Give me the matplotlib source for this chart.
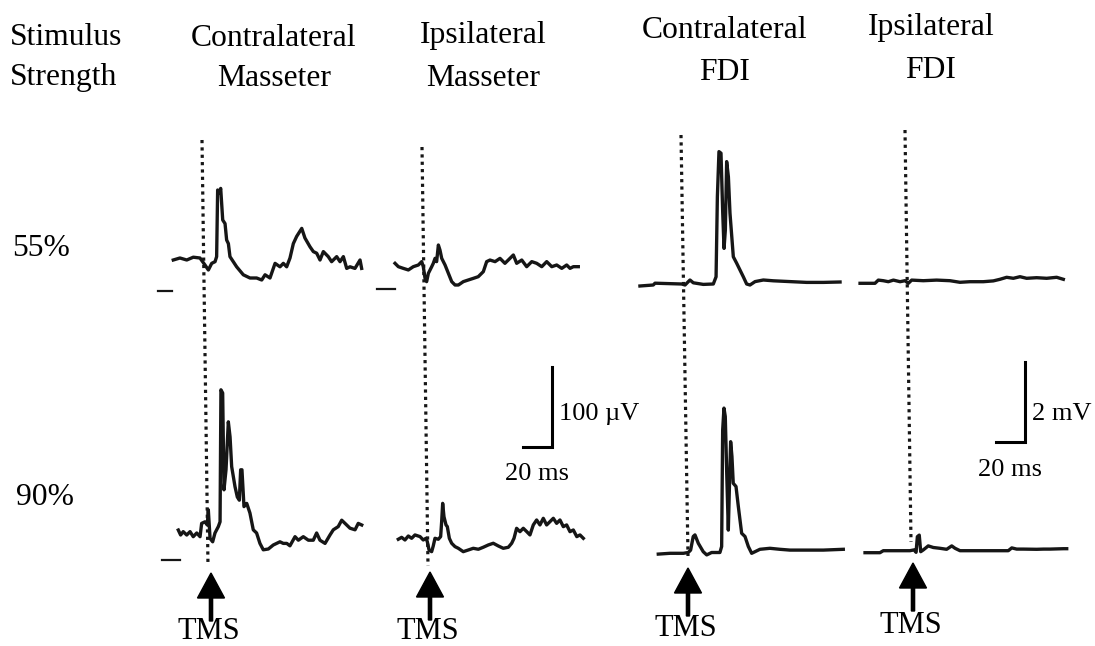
import numpy as np
import matplotlib
matplotlib.use("Agg")
import matplotlib.pyplot as plt

W, H = 1095, 646
PX_PER_MS = 1.45          # 20 ms = 29 px
PX_PER_UV = 0.8           # 100 uV = 80 px (masseter)
PX_PER_MV = 40.0          # 2 mV = 80 px (FDI)

# --- traces: time (ms, 0 = TMS) and amplitude (uV for masseter, mV for FDI) ---
cm55_t = [-20.5, -15.9, -11.2, -6.7, -2.1, 1.4, 3.7, 6.0, 8.3, 9.4, 10.1, 11.3, 12.2, 13.6, 15.2,
          16.3, 17.5, 18.6, 23.2, 27.8, 32.4, 37.0, 40.5, 42.8, 46.2, 49.7, 53.1, 55.4, 57.7, 60.0,
          62.3, 64.6, 68.1, 70.3, 73.8, 76.1, 78.4, 80.7, 83.0, 86.4, 88.7, 92.2, 94.5, 96.8, 99.1,
          101.4, 104.8, 108.3, 109.4]
cm55_a = [-2.5, 0, -2.5, 1, 0, -8.8, -15, -6.7, -4.6, 1.7, 85, 81, 87, 47.5, 43,
          22.5, 18, 1.7, -11, -21, -25, -25, -27.5, -21, -25, -6.7, -11, -6.7, -11, 0,
          18, 27, 37, 25, 14, 8, 6, -2.5, 8, 1.7, -4.6, 1.7, -4.6, 1.7, -13,
          -11, -13, -2.5, -13]

im55_t = [-18.4, -16.1, -12.7, -9.2, -5.8, -2.3, 0, 1.1, 2.3, 3.4, 4.6, 6.9, 8.0, 9.2, 10.3,
          11.5, 12.6, 13.8, 16.1, 18.4, 20.7, 23.0, 25.3, 28.7, 32.2, 35.6, 39.0, 42.5, 44.8, 47.1,
          50.6, 54.0, 57.4, 59.7, 63.2, 65.5, 69.0, 72.4, 75.9, 79.3, 82.8, 86.2, 89.7, 93.1, 96.6,
          100.0, 102.3, 104.6, 108.0]
im55_a = [2.1, -2.1, -4.2, -6.2, -2.1, 0, 4.2, -2.1, -16.7, -20.8, -10.4, -2.1, 2.1, 8.3, 4.2,
          25, 18.7, 8.3, 0, -10.4, -20.8, -25, -25, -20.8, -18.7, -16.7, -14.6, -8.3, 4.2, 6.2,
          4.2, 8.3, 2.1, 6.2, 12.5, 2.1, 6.2, -2.1, 4.2, 2.1, -2.1, 4.2, -2.1, 0, -4.2,
          0, -4.2, -2.1, -2.1]

cf55_t = [-28.8, -19.6, -18.4, 0, 2.3, 5.7, 8.0, 14.9, 21.8, 23.7, 24.6, 25.7, 27.1, 28.3, 29.2,
          30.1, 31.0, 32.2, 33.3, 35.6, 37.9, 40.2, 42.5, 44.8, 47.1, 50.6, 56.3, 63.2, 74.7, 86.2,
          97.7, 109.2]
cf55_a = [-0.05, -0.025, 0.02, 0, -0.025, 0.1, 0.03, -0.01, 0, 0.18, 2.18, 3.31, 3.27, 1.77, 0.89,
          1.35, 3.06, 2.68, 1.77, 0.68, 0.52, 0.35, 0.18, 0, -0.025, 0.06, 0.1, 0.08, 0.06, 0.04,
          0.04, 0.05]

if55_t = [-31.0, -20.7, -18.4, -15.0, -11.5, -8.0, -3.4, 0, 2.3, 4.6, 12.6, 21.8, 31.0, 37.9, 44.8,
          54.0, 60.9, 65.5, 70.1, 74.7, 79.3, 83.9, 90.8, 97.7, 104.6, 109.2]
if55_a = [-0.04, -0.04, 0.04, 0.025, 0, 0.04, 0, 0.025, -0.04, 0.04, 0.025, 0.04, 0.025, -0.015, 0,
          0, 0.02, 0.06, 0.11, 0.085, 0.125, 0.085, 0.1, 0.085, 0.11, 0.06]

cm90_t = [-20.0, -18.4, -16.6, -14.2, -11.9, -9.7, -7.3, -5.0, -3.9, -1.6, 0, 0.7, 1.9, 3.7, 5.3,
          7.6, 8.8, 9.4, 10.6, 11.5, 12.9, 14.5, 15.7, 16.8, 19.1, 20.7, 22.1, 23.0, 23.9, 25.3,
          27.2, 29.4, 31.7, 34.0, 36.3, 38.6, 42.1, 45.5, 50.1, 52.4, 54.8, 57.0, 60.5, 62.8, 66.2,
          69.7, 73.1, 75.4, 77.7, 81.2, 84.6, 86.9, 90.3, 92.7, 95.0, 98.4, 101.9, 104.1, 106.5]
cm90_a = [3.7, -2.5, 1.7, -2.5, 1.7, -4.6, 0, -4.6, 12, 14, 10, 29, -6.7, -11, 0,
          8, 14, 179, 175, 54, 79, 139, 120, 83, 58, 45, 41, 79, 79, 33,
          37, 25, 4, 0, -13, -21, -20, -15, -11, -13, -13, -16, -4.6, -9, -4.6,
          -9, -9, 0, -9, -13, -2.5, 4, 8, 16, 12, 6, 4, 12, 10]

im90_t = [-20.0, -17.7, -15.4, -13.1, -10.8, -8.5, -5.0, -2.8, -0.9, 0, 1.2, 3.0, 4.1, 5.3, 7.6,
          9.2, 9.9, 10.6, 11.5, 12.9, 13.8, 15.2, 16.8, 19.1, 21.4, 24.8, 28.3, 31.7, 35.2, 38.6,
          42.1, 45.5, 49.0, 52.4, 55.9, 58.2, 59.8, 61.6, 63.9, 66.2, 68.6, 70.8, 73.1, 75.4, 77.7,
          80.0, 82.3, 84.6, 86.9, 89.2, 91.5, 93.8, 96.1, 98.4, 100.7, 103.1, 105.3, 107.6]
im90_a = [-1.2, 1.2, -2.1, 2.9, 0, 4.2, 2.1, -2.1, 0, -4.2, -14.6, -16.7, -9.6, 0, -1.2,
          2.1, 20.8, 43.7, 27, 16.7, 14.6, 0, -6.2, -10.4, -12.5, -16.7, -14.6, -12.5, -13.7, -11.2,
          -8.3, -6.2, -9.6, -12.5, -11.2, -6.2, 0, 12.5, 8.3, 12.5, 8.3, 4.2, 16.7, 22.9, 16.7,
          25, 16.7, 20.8, 25, 18.7, 22.9, 14.6, 16.7, 8.3, 10.4, 2.1, 4.2, 0]

cf90_t = [-20.7, -12.6, -3.4, 0, 1.6, 3.4, 4.6, 6.9, 10.3, 12.7, 16.1, 21.8, 23.0, 23.7, 24.6,
          25.5, 26.5, 27.6, 28.3, 29.2, 30.1, 31.0, 32.9, 34.5, 36.8, 39.1, 41.4, 43.7, 46.0, 49.4,
          56.3, 63.2, 70.1, 81.6, 93.1, 106.9]
cf90_a = [-0.02, 0, 0, 0.02, 0.08, 0.42, 0.46, 0.25, 0.04, -0.04, 0.02, 0.02, 0.17, 3.08, 3.63,
          3.42, 2.0, 0.58, 1.58, 2.79, 2.42, 1.75, 1.67, 1.17, 0.5, 0.42, 0.17, 0, 0.04, 0.1,
          0.125, 0.1, 0.08, 0.08, 0.08, 0.1]

if90_t = [-31.5, -21.2, -18.9, -12.0, -0.5, 2.3, 3.7, 4.6, 5.9, 6.9, 8.7, 12.1, 15.6, 20.2, 24.8,
          28.3, 30.6, 34.0, 45.5, 57.0, 67.3, 69.7, 73.1, 77.7, 86.9, 91.5, 96.1, 105.3, 107.6]
if90_a = [0, 0, 0.05, 0.05, 0.05, 0.07, 0.01, 0.4, 0.44, 0.025, 0.07, 0.17, 0.13, 0.11, 0.085,
          0.17, 0.11, 0.05, 0.05, 0.05, 0.05, 0.12, 0.09, 0.09, 0.085, 0.09, 0.09, 0.1, 0.1]

# short baseline markers (time range in ms, level in uV)
cm55_mark = ([-31, -21.4], -41)
im55_mark = ([-30.8, -18.4], -30)
cm90_mark = ([-31.4, -18.8], -34)

col_titles = [("Contralateral", "Masseter"), ("Ipsilateral", "Masseter"),
              ("Contralateral", "FDI"), ("Ipsilateral", "FDI")]
row_labels = ["55%", "90%"]

plt.rcParams['font.family'] = ['Liberation Serif', 'DejaVu Serif']
INK = "#161616"
BIG = 22.8

fig = plt.figure(figsize=(W / 100, H / 100), dpi=100)
ov = fig.add_axes([0, 0, 1, 1])
ov.set_xlim(0, W)
ov.set_ylim(H, 0)
ov.set_axis_off()


def trace_axes(x0, y0, px_per_unit):
    # full-figure axes whose origin (t=0, amp=0) sits at pixel (x0, y0)
    a = fig.add_axes([0, 0, 1, 1])
    a.set_xlim(-x0 / PX_PER_MS, (W - x0) / PX_PER_MS)
    a.set_ylim(-(H - y0) / px_per_unit, y0 / px_per_unit)
    a.set_axis_off()
    a.patch.set_alpha(0)
    return a


panels = [
    (cm55_t, cm55_a, 203, 258, PX_PER_UV, cm55_mark),
    (im55_t, im55_a, 421.7, 265, PX_PER_UV, im55_mark),
    (cf55_t, cf55_a, 681.7, 284, PX_PER_MV, None),
    (if55_t, if55_a, 905, 281.7, PX_PER_MV, None),
    (cm90_t, cm90_a, 207.3, 533, PX_PER_UV, cm90_mark),
    (im90_t, im90_a, 427.3, 538.3, PX_PER_UV, None),
    (cf90_t, cf90_a, 688.3, 553.3, PX_PER_MV, None),
    (if90_t, if90_a, 910.7, 552.7, PX_PER_MV, None),
]
for t, amp, x0, y0, ppu, mark in panels:
    a = trace_axes(x0, y0, ppu)
    a.plot(t, amp, color=INK, lw=2.4, solid_joinstyle="round")
    if mark is not None:
        a.plot(mark[0], [mark[1], mark[1]], color=INK, lw=1.6)

# dotted TMS lines (top, bottom pixel points)
dots = [((202, 140), (208, 566)), ((422, 147), (428, 566)),
        ((681, 135), (688, 556)), ((905, 130), (911, 542))]
for (xa, ya), (xb, yb) in dots:
    ov.plot([xa, xb], [ya, yb], color=INK, lw=2.3, linestyle=(0, (1, 1.3)))

# TMS arrows and labels
arrows = [(211, 573, 639), (430, 572, 639), (688, 568, 636), (913, 563, 633)]
for x, tip, base in arrows:
    ov.arrow(x, tip + 48, 0, -48, width=3.2, head_width=27, head_length=25,
             length_includes_head=True, color="black")
    ov.text(x - 2, base, "TMS", fontsize=22, ha="center", va="baseline")

# scale bars: masseter (20 ms, 100 uV) and FDI (20 ms, 2 mV)
for cx, cy, amp_px, lab, lab_y, ms_y in [(552, 447, 100 * PX_PER_UV, "100 µV", 420, 480),
                                         (1025, 442, 2 * PX_PER_MV, "2 mV", 420, 476)]:
    ov.plot([cx - 20 * PX_PER_MS, cx, cx], [cy, cy, cy - amp_px], color="black", lw=2.2,
            solid_joinstyle="miter")
    ov.text(cx + 7, lab_y, lab, fontsize=19, ha="left", va="baseline")
    ov.text(cx - 15, ms_y, "20 ms", fontsize=19, ha="center", va="baseline")

# headers
ov.text(10, 45, "Stimulus", fontsize=BIG, ha="left", va="baseline")
ov.text(10, 85, "Strength", fontsize=BIG, ha="left", va="baseline")
for (l1, l2), cx, b1, b2 in zip(col_titles, [274, 483, 725, 931], [46, 43, 38, 35], [86, 86, 80, 78]):
    ov.text(cx, b1, l1, fontsize=BIG, ha="center", va="baseline")
    ov.text(cx, b2, l2, fontsize=BIG, ha="center", va="baseline")
for lab, x, y in zip(row_labels, [12, 16], [256, 505]):
    ov.text(x, y, lab, fontsize=BIG, ha="left", va="baseline")

fig.savefig("out.png", dpi=100, facecolor="white")
